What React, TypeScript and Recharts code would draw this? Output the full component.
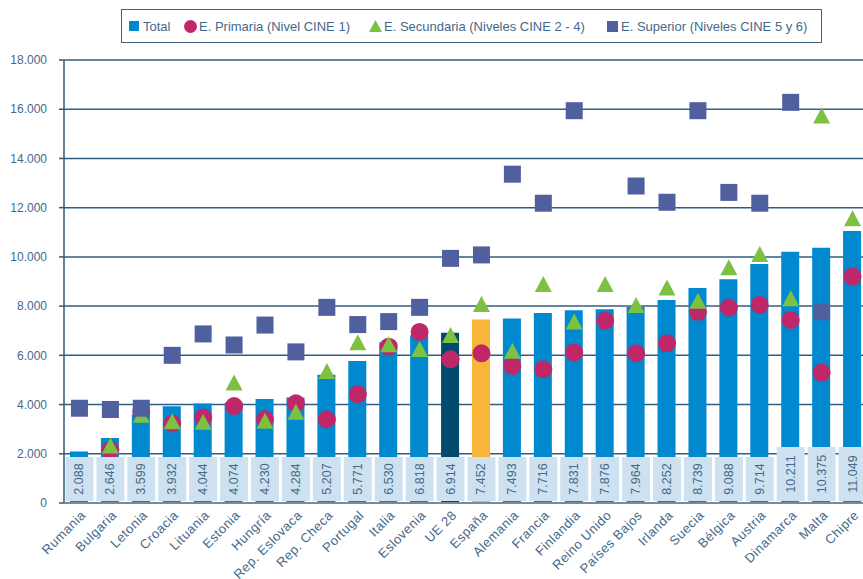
import React from 'react';
import { ComposedChart, Bar, Cell, Scatter, XAxis, YAxis, CartesianGrid } from 'recharts';

const paises = [
  'Rumania', 'Bulgaria', 'Letonia', 'Croacia', 'Lituania', 'Estonia', 'Hungría',
  'Rep. Eslovaca', 'Rep. Checa', 'Portugal', 'Italia', 'Eslovenia', 'UE 28', 'España',
  'Alemania', 'Francia', 'Finlandia', 'Reino Unido', 'Países Bajos', 'Irlanda', 'Suecia',
  'Bélgica', 'Austria', 'Dinamarca', 'Malta', 'Chipre',
];

const total = [
  2088, 2646, 3599, 3932, 4044, 4074, 4230, 4284, 5207, 5771, 6530, 6818, 6914, 7452,
  7493, 7716, 7831, 7876, 7964, 8252, 8739, 9088, 9714, 10211, 10375, 11049,
];

const primaria = [
  null, 2150, 3720, 3230, 3470, 3940, 3400, 4050, 3400, 4420, 6350, 6950, 5840, 6080,
  5570, 5430, 6120, 7410, 6080, 6490, 7770, 7940, 8050, 7440, 5300, 9200,
];

const secundaria = [
  null, 2300, 3550, 3280, 3260, 4860, 3300, 3670, 5320, 6490, 6410, 6220, 6790, 8050,
  6150, 8860, 7330, 8860, 8000, 8720, 8180, 9540, 10080, 8280, 15700, 11530,
];

const superior = [
  3850, 3800, 3850, 6000, 6870, 6420, 7230, 6140, 7950, 7250, 7370, 7950, 9940, 10080,
  13360, 12180, 15940, null, 12880, 12220, 15940, 12620, 12180, 16280, 7770, null,
];

const yTicks = [0, 2000, 4000, 6000, 8000, 10000, 12000, 14000, 16000, 18000];

const data = paises.map((name, i) => ({
  name,
  total: total[i],
  primaria: primaria[i],
  secundaria: secundaria[i],
  superior: superior[i],
}));

const AZUL = '#0089cf';
const UE = '#004a6e';
const ESP = '#f9b43a';
const MAGENTA = '#be2868';
const VERDE = '#7dc142';
const MORADO = '#50609e';
const TEXTO = '#45698a';
const FONT = '"Liberation Sans", Arial, sans-serif';

const fmt = (v: number) => String(v).replace(/\B(?=(\d{3})+(?!\d))/g, '.');

const barColor = (name: string) => (name === 'UE 28' ? UE : name === 'España' ? ESP : AZUL);

const Circulo = (props: any) => {
  if (props.payload?.primaria == null) return null;
  return <circle cx={props.cx} cy={props.cy} r={9} fill={MAGENTA} />;
};

const Triangulo = (props: any) => {
  if (props.payload?.secundaria == null) return null;
  const { cx, cy } = props;
  return <path d={`M${cx},${cy - 9} L${cx + 8.5},${cy + 7} L${cx - 8.5},${cy + 7} Z`} fill={VERDE} />;
};

const Cuadrado = (props: any) => {
  if (props.payload?.superior == null) return null;
  const { cx, cy } = props;
  return <rect x={cx - 8.5} y={cy - 8.5} width={17} height={17} fill={MORADO} />;
};

// tick del eje X: nombre girado + caja con el valor total
const TickPais = (props: any) => {
  const { x, y, payload, index } = props;
  const label = fmt(total[index]);
  const h = label.length > 5 ? 54 : 44;
  return (
    <g>
      <rect x={x - 14} y={y - 2 - h} width={28} height={h} fill="#cde1f0" />
      <text
        x={x}
        y={y - 2 - h / 2}
        transform={`rotate(-90 ${x} ${y - 2 - h / 2})`}
        textAnchor="middle"
        dominantBaseline="central"
        fontSize={12.5}
        fontFamily={FONT}
        fill={TEXTO}
      >
        {label}
      </text>
      <text
        x={x + 7}
        y={y + 13}
        transform={`rotate(-45 ${x + 7} ${y + 13})`}
        textAnchor="end"
        fontSize={13}
        letterSpacing={0.5}
        fontFamily={FONT}
        fill={TEXTO}
      >
        {payload.value}
      </text>
    </g>
  );
};

const LegendItem = ({ left, marker, text }: { left: number; marker: React.ReactNode; text: string }) => (
  <div style={{ position: 'absolute', left, top: 0, height: 32, display: 'flex', alignItems: 'center' }}>
    <svg width={13} height={13} style={{ marginRight: 2 }}>{marker}</svg>
    <span style={{ fontSize: 13, fontFamily: FONT, color: TEXTO }}>{text}</span>
  </div>
);

function App() {
  return (
    <div style={{ position: 'absolute', left: 0, top: 0, width: 863, height: 579, overflow: 'hidden', background: '#fff' }}>
      <div
        style={{
          position: 'absolute',
          left: 121,
          top: 9,
          width: 701,
          height: 34,
          border: '1px solid #3f6380',
          boxSizing: 'border-box',
        }}
      >
        <LegendItem left={6} marker={<rect x={1} y={1} width={10} height={10} fill={AZUL} />} text="Total" />
        <LegendItem left={62} marker={<circle cx={6.5} cy={6.5} r={6.5} fill={MAGENTA} />} text="E. Primaria (Nivel CINE 1)" />
        <LegendItem left={247} marker={<path d="M6.5,0 L13,12 L0,12 Z" fill={VERDE} />} text="E. Secundaria (Niveles CINE 2 - 4)" />
        <LegendItem left={484} marker={<rect x={1} y={1} width={11} height={11} fill={MORADO} />} text="E. Superior (Niveles CINE 5 y 6)" />
      </div>
      <ComposedChart width={870} height={579} data={data} margin={{ top: 60, right: 2, bottom: 0, left: 0 }}>
        <CartesianGrid vertical={false} stroke="#2f5f80" strokeWidth={1.5} />
        <YAxis
          width={64}
          domain={[0, 18000]}
          ticks={yTicks}
          interval={0}
          tickFormatter={fmt}
          tickSize={5}
          tickMargin={12}
          axisLine={{ stroke: '#2e5a78', strokeWidth: 1.5 }}
          tickLine={{ stroke: '#2e5a78', strokeWidth: 1.5 }}
          tick={{ fontSize: 12, fontFamily: FONT, fill: TEXTO }}
        />
        <Bar dataKey="total" barSize={18} isAnimationActive={false}>
          {data.map((d) => (
            <Cell key={d.name} fill={barColor(d.name)} />
          ))}
        </Bar>
        <Scatter dataKey="primaria" shape={Circulo} isAnimationActive={false} />
        <Scatter dataKey="secundaria" shape={Triangulo} isAnimationActive={false} />
        <Scatter dataKey="superior" shape={Cuadrado} isAnimationActive={false} />
        <XAxis
          dataKey="name"
          interval={0}
          height={76}
          tickSize={0}
          tickMargin={0}
          tickLine={false}
          axisLine={{ stroke: '#6f8ea5', strokeWidth: 2 }}
          tick={<TickPais />}
        />
      </ComposedChart>
    </div>
  );
}

export default App;
